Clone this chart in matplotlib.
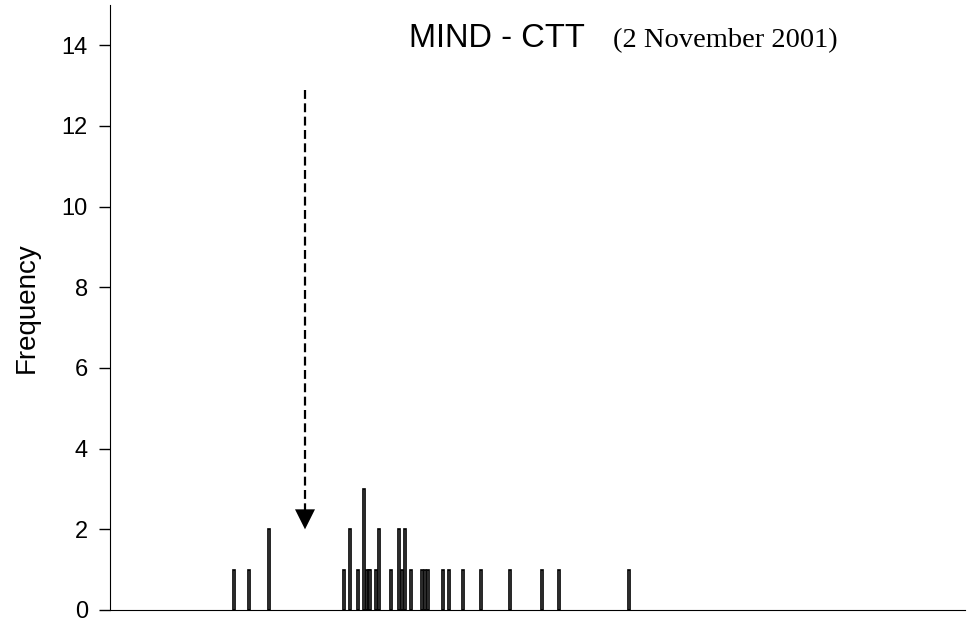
import numpy as np
import matplotlib.pyplot as plt

# bin positions (arbitrary x units) and frequencies
bin_pos = [12.4, 13.9, 15.9, 23.4, 24.0, 24.8, 25.4, 25.7, 25.9, 26.0,
           26.6, 26.9, 28.1, 28.9, 29.2, 29.5, 30.1, 31.2, 31.5, 31.8,
           33.3, 33.9, 35.3, 37.1, 40.0, 43.2, 44.9, 51.9]
freq = [1, 1, 2, 1, 2, 1, 3, 1, 1, 1,
        1, 2, 1, 2, 1, 2, 1, 1, 1, 1,
        1, 1, 1, 1, 1, 1, 1, 1]

arrow_x = 19.5
arrow_top = 12.9
arrow_tip = 2.0

plt.rcParams["font.family"] = ["Liberation Sans", "DejaVu Sans"]

fig = plt.figure(figsize=(9.79, 6.24), dpi=100)
ax = fig.add_axes([110 / 979, 14 / 624, 855 / 979, 605 / 624])

ax.bar(bin_pos, freq, width=0.25, facecolor="white", edgecolor="black",
       linewidth=1.2, align="center")

# dashed arrow
ax.plot([arrow_x, arrow_x], [arrow_top, arrow_tip + 0.45], color="black",
        linewidth=1.6, dashes=(4, 2))
ax.annotate("", xy=(arrow_x, arrow_tip), xytext=(arrow_x, arrow_tip + 0.5),
            arrowprops=dict(arrowstyle="-|>,head_length=1.0,head_width=0.5",
                            mutation_scale=14.4, color="black", lw=0,
                            shrinkA=0, shrinkB=0))

ax.set_xlim(0, 85.5)
ax.set_ylim(0, 15)
ax.set_yticks(range(0, 15, 2))
ax.set_xticks([])
ax.tick_params(axis="y", labelsize=17, length=8, width=1, pad=8,
               direction="out")
ax.set_ylabel("Frequency", fontsize=20, labelpad=16)
ax.spines[["top", "right"]].set_visible(False)

fig.text(409 / 979, 1 - 47 / 624, "MIND - CTT", fontsize=23.5,
         va="baseline", ha="left")
fig.text(613 / 979, 1 - 47 / 624, "(2 November 2001)", fontsize=20.5,
         family="Liberation Serif", va="baseline", ha="left")

fig.savefig("out.png", dpi=100)
